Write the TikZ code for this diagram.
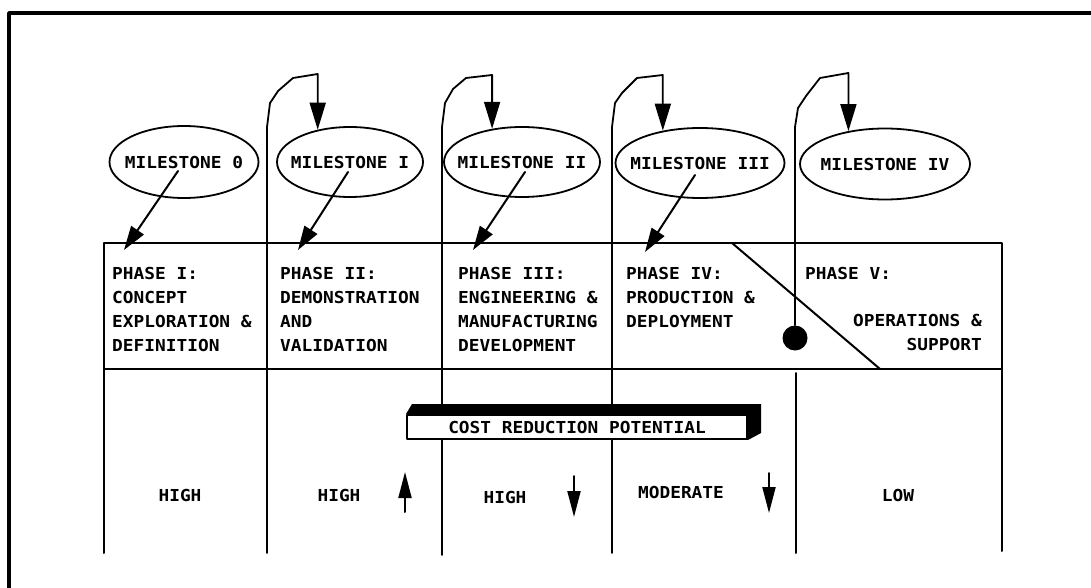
\documentclass[tikz,border=0pt]{standalone}
\usepackage{fontspec}
\newfontfamily\plotfont{DejaVu Sans Mono}[FakeStretch=1.08]
\usetikzlibrary{shapes.geometric,arrows.meta,calc,backgrounds}
\begin{document}
\begin{tikzpicture}[x=1pt,y=-1pt,
  line cap=round, line join=round,
  frame/.style={line width=3.5pt},
  grid/.style={line width=2pt},
  pfont/.style={font=\plotfont\bfseries\fontsize{16.5}{24}\selectfont},
  ms/.style={draw, ellipse, line width=1.8pt, inner sep=0pt, pfont},
  txt/.style={inner sep=0pt, pfont},
  phase/.style={txt, anchor=north west, align=left},
  tipA/.style={-{Triangle[length=24pt,width=15pt]}, line width=2pt},
  hook/.style={-{Triangle[length=27pt,width=16pt]}, line width=1.8pt},
  tipB/.style={-{Triangle[length=26pt,width=13pt]}, line width=2pt},
]
\useasboundingbox (0,0) rectangle (1091,588);

% outer frame
\draw[frame] (9,588) -- (9,13) -- (1091,13);

% milestones
\node[ms, minimum width=149pt, minimum height=72pt] (e0) at (184,162) {\makebox[0pt]{MILESTONE 0}};
\node[ms, minimum width=146pt, minimum height=70pt] (e1) at (350,162) {\makebox[0pt]{MILESTONE I}};
\node[ms, minimum width=156pt, minimum height=70pt] (e2) at (522,162) {\makebox[0pt]{MILESTONE II}};
\node[ms, minimum width=169pt, minimum height=70pt] (e3) at (700,163) {\makebox[0pt]{MILESTONE III}};
\node[ms, minimum width=170pt, minimum height=71pt] (e4) at (885,164) {\makebox[0pt]{MILESTONE IV}};

% table outline
\coordinate (TL) at (104,243);
\coordinate (TR) at (1002,243);
\coordinate (ML) at (104,369);
\coordinate (MR) at (1002,369);
\coordinate (BL) at (104,553);
\coordinate (BR) at (1002,551);
\draw[grid] (BL) -- (TL) -- (TR) -- (BR);
\draw[grid] (ML) -- (MR);

% arrows milestone -> phase
\coordinate (a0) at (124,250);
\coordinate (a1) at (298,250);
\coordinate (a2) at (473,250);
\coordinate (a3) at (645,252);
\draw[tipA] ($(e0.center)+(-6,9)$) -- (a0);
\draw[tipA] ($(e1.center)+(-2,10)$) -- (a1);
\draw[tipA] ($(e2.center)+(3,10)$) -- (a2);
\draw[tipA] ($(e3.center)+(-5,12)$) -- (a3);

% column dividers with hooks
\draw[hook] (267,553) -- (267,127) -- (270,103) -- (278,91) -- (293,78) -- (e1.135 |- 0,74) -- (e1.135);
\draw[hook] (442,555) -- (442,127) -- (445,103) -- (453,89) -- (466,78) -- (e2.132 |- 0,75) -- (e2.132);
\draw[hook] (612,553) -- (612,127) -- (615,103) -- (622,93) -- (637,78) -- (e3.139 |- 0,75) -- (e3.139);
\node[circle, fill, inner sep=0pt, minimum size=25pt] (dot) at (795,338) {};
\draw[hook] (dot.north) -- (795,127) -- (798,108) -- (806,96) -- (820,78) -- (e4.138 |- 0,73) -- (e4.138);
\draw[grid] (796,373) -- (796,553);

% diagonal
\draw[grid] (732,243) -- (880,369);

% phase texts
\node[phase] (p1) at (112,267) {PHASE I:\\CONCEPT\\EXPLORATION \&\\DEFINITION};
\node[phase] (p2) at (280,267) {PHASE II:\\DEMONSTRATION\\AND\\VALIDATION};
\node[phase] (p3) at (458,267) {PHASE III:\\ENGINEERING \&\\MANUFACTURING\\DEVELOPMENT};
\node[phase] (p4) at (626,267) {PHASE IV:\\PRODUCTION \&\\DEPLOYMENT};
\node[phase] (p5) at (805,267) {PHASE V:};
\node[txt, anchor=north east, align=right] (p5b) at (982,314) {OPERATIONS \&\\SUPPORT};

% cost reduction box
\node[draw, fill=white, line width=2pt, minimum width=340pt, minimum height=24pt, txt] (cost) at (577,427) {COST REDUCTION POTENTIAL};
\begin{scope}[on background layer]
\fill (cost.north west) -- ($(cost.north west)+(6,-10)$) -- ($(cost.north east)+(13,-10)$) -- ($(cost.south east)+(13,-7)$) -- (cost.south east) -- cycle;
\end{scope}

% bottom row
\node[txt] (h1) at (180,495) {HIGH};
\node[txt] (h2) at (339,495) {HIGH};
\node[txt] (h3) at (505,497) {HIGH};
\node[txt] (h4) at (681,492) {MODERATE};
\node[txt] (h5) at (898,495) {LOW};
\coordinate (u1) at (405,512);
\coordinate (u2) at (405,472);
\coordinate (d1) at (574,476);
\coordinate (d2) at (574,517);
\coordinate (d3) at (769,473);
\coordinate (d4) at (769,513);
\draw[tipB] (u1) -- (u2);
\draw[tipB] (d1) -- (d2);
\draw[tipB] (d3) -- (d4);
\end{tikzpicture}
\end{document}
